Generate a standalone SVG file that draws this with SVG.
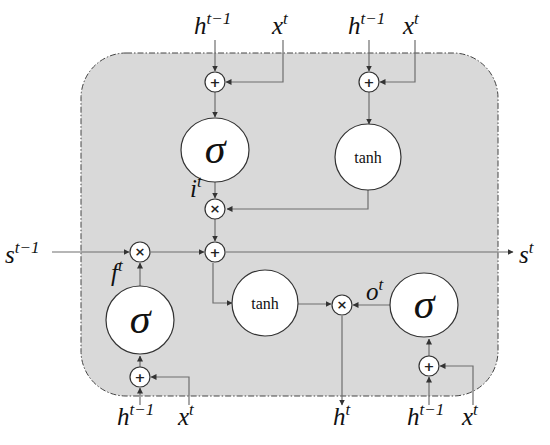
<svg xmlns="http://www.w3.org/2000/svg" width="550" height="445" viewBox="0 0 550 445">
<defs>
<marker id="ah" markerWidth="6" markerHeight="6" refX="5.5" refY="3" orient="auto" markerUnits="userSpaceOnUse">
<path d="M0,0 L6,3 L0,6 Z" fill="#333"/>
</marker>
<style>
.ln{fill:none;stroke:#6e6e6e;stroke-width:1.2}
.op{fill:#fff;stroke:#333;stroke-width:1.2}
.big{fill:#fff;stroke:#333;stroke-width:1.2}
.sym{font-family:"DejaVu Sans",sans-serif;font-size:13px;font-weight:bold;fill:#222;text-anchor:middle}
.m{font-family:"Liberation Serif",serif;font-style:italic;font-size:25px;fill:#111}
.sup{font-size:17px}
.sig{font-family:"Liberation Serif",serif;font-style:italic;font-size:42px;fill:#111;text-anchor:middle}
.th{font-family:"Liberation Serif",serif;font-size:16px;fill:#111;text-anchor:middle}
</style>
</defs>
<rect x="81" y="53" width="417" height="343" rx="45" ry="45" fill="#d9d9d9" stroke="#444" stroke-width="1" stroke-dasharray="6 2 1.5 2"/>
<g id="connectors">
<path class="ln" d="M215,40 V71" marker-end="url(#ah)"/>
<path class="ln" d="M283,40 V82 H226" marker-end="url(#ah)"/>
<path class="ln" d="M215,92 V117" marker-end="url(#ah)"/>
<path class="ln" d="M369,40 V71" marker-end="url(#ah)"/>
<path class="ln" d="M415,40 V82 H380" marker-end="url(#ah)"/>
<path class="ln" d="M369,92 V124" marker-end="url(#ah)"/>
<path class="ln" d="M215,182 V198" marker-end="url(#ah)"/>
<path class="ln" d="M368,190 V209 H227" marker-end="url(#ah)"/>
<path class="ln" d="M215,219 V241" marker-end="url(#ah)"/>
<path class="ln" d="M52,252 H129" marker-end="url(#ah)"/>
<path class="ln" d="M151,252 H204" marker-end="url(#ah)"/>
<path class="ln" d="M226,252 H513" marker-end="url(#ah)"/>
<path class="ln" d="M140,286 V263" marker-end="url(#ah)"/>
<path class="ln" d="M140,405 V388" marker-end="url(#ah)"/>
<path class="ln" d="M140,367 V356" marker-end="url(#ah)"/>
<path class="ln" d="M189,405 V377 H151" marker-end="url(#ah)"/>
<path class="ln" d="M213,263 V303 H232" marker-end="url(#ah)"/>
<path class="ln" d="M298,304 H331" marker-end="url(#ah)"/>
<path class="ln" d="M391,305 H353" marker-end="url(#ah)"/>
<path class="ln" d="M342,316 V405" marker-end="url(#ah)"/>
<path class="ln" d="M429,356 V339" marker-end="url(#ah)"/>
<path class="ln" d="M429,405 V377" marker-end="url(#ah)"/>
<path class="ln" d="M473,405 V366 H440" marker-end="url(#ah)"/>
</g>
<g id="plus_i"><circle class="op" cx="215" cy="82" r="10"/><text class="sym" x="215" y="87">+</text></g>
<g id="plus_c"><circle class="op" cx="369" cy="82" r="10"/><text class="sym" x="369" y="87">+</text></g>
<g id="sigma_i"><ellipse class="big" cx="215" cy="150" rx="34" ry="32"/><text class="sig" x="215" y="163">σ</text></g>
<g id="tanh_c"><ellipse class="big" cx="368" cy="157" rx="33" ry="33"/><text class="th" x="368" y="163">tanh</text></g>
<g id="times_i"><circle class="op" cx="215" cy="209" r="10"/><text class="sym" x="215" y="213">×</text></g>
<g id="times_f"><circle class="op" cx="140" cy="252" r="10"/><text class="sym" x="140" y="256">×</text></g>
<g id="plus_s"><circle class="op" cx="215" cy="252" r="10"/><text class="sym" x="215" y="257">+</text></g>
<g id="sigma_f"><ellipse class="big" cx="140" cy="320" rx="34" ry="34"/><text class="sig" x="140" y="333">σ</text></g>
<g id="plus_f"><circle class="op" cx="140" cy="377" r="10"/><text class="sym" x="140" y="382">+</text></g>
<g id="tanh_s"><ellipse class="big" cx="265" cy="303" rx="33" ry="33"/><text class="th" x="265" y="309">tanh</text></g>
<g id="times_o"><circle class="op" cx="342" cy="305" r="10"/><text class="sym" x="342" y="309">×</text></g>
<g id="sigma_o"><ellipse class="big" cx="424" cy="305" rx="34" ry="32"/><text class="sig" x="424" y="318">σ</text></g>
<g id="plus_o"><circle class="op" cx="429" cy="366" r="10"/><text class="sym" x="429" y="371">+</text></g>
<g id="labels">
<text class="m" x="194" y="34">h<tspan class="sup" dy="-10">t−1</tspan></text>
<text class="m" x="272" y="34">x<tspan class="sup" dy="-10">t</tspan></text>
<text class="m" x="348" y="34">h<tspan class="sup" dy="-10">t−1</tspan></text>
<text class="m" x="403" y="34">x<tspan class="sup" dy="-10">t</tspan></text>
<text class="m" x="190" y="197">i<tspan class="sup" dy="-10">t</tspan></text>
<text class="m" x="5" y="263">s<tspan class="sup" dy="-10">t−1</tspan></text>
<text class="m" x="519" y="263">s<tspan class="sup" dy="-10">t</tspan></text>
<text class="m" x="111" y="281">f<tspan class="sup" dy="-10">t</tspan></text>
<text class="m" x="366" y="300">o<tspan class="sup" dy="-10">t</tspan></text>
<text class="m" x="117" y="425">h<tspan class="sup" dy="-10">t−1</tspan></text>
<text class="m" x="178" y="425">x<tspan class="sup" dy="-10">t</tspan></text>
<text class="m" x="333" y="425">h<tspan class="sup" dy="-10">t</tspan></text>
<text class="m" x="407" y="425">h<tspan class="sup" dy="-10">t−1</tspan></text>
<text class="m" x="462" y="425">x<tspan class="sup" dy="-10">t</tspan></text>
</g>
</svg>
